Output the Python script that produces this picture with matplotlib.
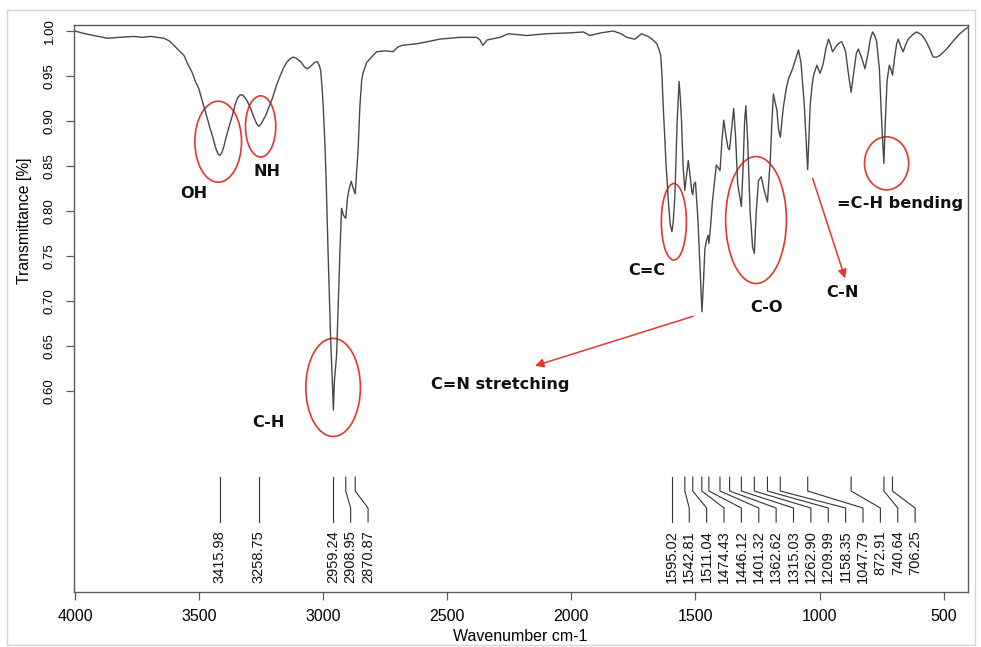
import matplotlib
matplotlib.use("Agg")
import matplotlib.pyplot as plt
from matplotlib.patches import Ellipse, Rectangle
import numpy as np

# ---------------- data ----------------
wavenumber = [4000, 3960, 3924, 3870, 3820, 3762, 3730, 3695, 3670, 3642, 3620, 3601, 3580, 3561,
              3545, 3528, 3515, 3501, 3487, 3474, 3460, 3447, 3433, 3423, 3416, 3408, 3400, 3393,
              3380, 3366, 3355, 3346, 3335, 3325, 3315, 3306, 3292, 3279, 3268, 3259, 3250, 3240,
              3232, 3218, 3205, 3190, 3178, 3160, 3145, 3130, 3121, 3110, 3091, 3075, 3064, 3050,
              3035, 3024, 3016, 3010, 3004, 3000, 2994, 2989, 2980, 2970, 2962, 2959, 2955, 2946,
              2933, 2926, 2918, 2909, 2902, 2895, 2887, 2880, 2871, 2865, 2859, 2852, 2845, 2839,
              2825, 2812, 2785, 2750, 2718, 2700, 2684, 2620, 2583, 2530, 2449, 2382, 2368, 2357,
              2340, 2288, 2254, 2180, 2100, 2000, 1952, 1925, 1880, 1831, 1800, 1777, 1744, 1717,
              1690, 1671, 1656, 1648, 1640, 1635, 1630, 1619, 1610, 1602, 1595, 1589, 1583, 1574,
              1566, 1561, 1556, 1550, 1543, 1536, 1529, 1522, 1515, 1511, 1506, 1500, 1490, 1482,
              1474, 1468, 1462, 1455, 1449, 1446, 1440, 1432, 1426, 1416, 1408, 1401, 1393, 1386,
              1378, 1369, 1363, 1355, 1346, 1338, 1330, 1315, 1308, 1302, 1297, 1290, 1280, 1270,
              1263, 1255, 1246, 1235, 1225, 1210, 1203, 1199, 1192, 1186, 1180, 1172, 1165, 1158,
              1150, 1145, 1135, 1125, 1109, 1095, 1085, 1075, 1062, 1058, 1048, 1043, 1038, 1030,
              1024, 1011, 998, 985, 975, 964, 956, 948, 940, 931, 920, 911, 903, 895, 885, 873,
              862, 852, 844, 830, 817, 805, 795, 786, 778, 770, 759, 750, 741, 735, 728, 719, 712,
              706, 698, 690, 683, 673, 663, 653, 643, 625, 609, 590, 576, 566, 556, 542, 528, 515,
              500, 488, 470, 455, 435, 414, 402]
transmittance = [1.000, 0.997, 0.995, 0.992, 0.993, 0.994, 0.993, 0.994, 0.993, 0.992, 0.989, 0.984,
                 0.978, 0.973, 0.963, 0.954, 0.944, 0.936, 0.922, 0.910, 0.896, 0.884, 0.870, 0.863,
                 0.862, 0.865, 0.872, 0.880, 0.893, 0.906, 0.918, 0.925, 0.929, 0.929, 0.926, 0.922,
                 0.914, 0.904, 0.897, 0.894, 0.897, 0.902, 0.906, 0.916, 0.925, 0.938, 0.947, 0.959,
                 0.966, 0.970, 0.971, 0.970, 0.966, 0.960, 0.958, 0.961, 0.965, 0.966, 0.962, 0.956,
                 0.935, 0.917, 0.880, 0.843, 0.751, 0.658, 0.603, 0.579, 0.610, 0.640, 0.751, 0.803,
                 0.795, 0.792, 0.815, 0.825, 0.833, 0.826, 0.819, 0.845, 0.870, 0.917, 0.945, 0.954,
                 0.965, 0.969, 0.977, 0.978, 0.977, 0.982, 0.984, 0.986, 0.988, 0.991, 0.993, 0.993,
                 0.990, 0.984, 0.990, 0.993, 0.997, 0.995, 0.997, 0.998, 0.999, 0.995, 0.998, 1.000,
                 0.997, 0.993, 0.991, 0.997, 0.994, 0.990, 0.986, 0.980, 0.973, 0.950, 0.917, 0.854,
                 0.814, 0.785, 0.777, 0.790, 0.817, 0.899, 0.944, 0.925, 0.899, 0.850, 0.823, 0.840,
                 0.856, 0.840, 0.822, 0.818, 0.830, 0.832, 0.790, 0.740, 0.688, 0.720, 0.758, 0.768,
                 0.773, 0.764, 0.780, 0.810, 0.825, 0.851, 0.848, 0.845, 0.880, 0.901, 0.885, 0.870,
                 0.868, 0.890, 0.914, 0.880, 0.830, 0.805, 0.850, 0.900, 0.917, 0.880, 0.800, 0.760,
                 0.753, 0.800, 0.834, 0.838, 0.825, 0.810, 0.840, 0.854, 0.900, 0.930, 0.922, 0.912,
                 0.890, 0.882, 0.905, 0.917, 0.935, 0.947, 0.958, 0.970, 0.979, 0.965, 0.920, 0.899,
                 0.846, 0.880, 0.917, 0.940, 0.951, 0.962, 0.953, 0.964, 0.980, 0.991, 0.985, 0.977,
                 0.980, 0.984, 0.987, 0.988, 0.983, 0.977, 0.955, 0.932, 0.955, 0.975, 0.980, 0.970,
                 0.958, 0.975, 0.992, 0.999, 0.995, 0.988, 0.958, 0.900, 0.853, 0.900, 0.945, 0.962,
                 0.957, 0.951, 0.970, 0.985, 0.991, 0.983, 0.977, 0.985, 0.991, 0.996, 0.999, 0.996,
                 0.991, 0.986, 0.980, 0.971, 0.971, 0.973, 0.977, 0.980, 0.986, 0.991, 0.997, 1.002,
                 1.004]

peak_positions = [3415.98, 3258.75, 2959.24, 2908.95, 2870.87, 1595.02, 1542.81, 1511.04,
                  1474.43, 1446.12, 1401.32, 1362.62, 1315.03, 1262.90, 1209.99, 1158.35,
                  1047.79, 872.91, 740.64, 706.25]
peak_labels = ["3415.98", "3258.75", "2959.24", "2908.95", "2870.87", "1595.02", "1542.81",
               "1511.04", "1474.43", "1446.12", "1401.32", "1362.62", "1315.03", "1262.90",
               "1209.99", "1158.35", "1047.79", "872.91", "740.64", "706.25"]

x_ticks = [4000, 3500, 3000, 2500, 2000, 1500, 1000, 500]
y_ticks = [0.60, 0.65, 0.70, 0.75, 0.80, 0.85, 0.90, 0.95, 1.00]

group_names = ["OH", "NH", "C-H", "C=C", "C-O", "=C-H bending"]

# ---------------- figure ----------------
W, H = 981, 647
fig = plt.figure(figsize=(W / 100, H / 100), dpi=100)
ax = fig.add_axes([74 / W, 1 - 592 / H, (968 - 74) / W, (592 - 25) / H])

line_col = "#484848"
red = "#e2372f"

ax.plot(wavenumber, transmittance, color=line_col, lw=1.0)
ax.set_xlim(4004, 402)
ax.set_ylim(0.3767, 1.0067)

for s in ax.spines.values():
    s.set_color("#5a5a5a")
    s.set_linewidth(1.0)

ax.set_xticks(x_ticks)
ax.set_xticklabels([str(t) for t in x_ticks], fontsize=11.5, family="Liberation Sans")
ax.set_yticks(y_ticks)
ax.set_yticklabels([f"{t:.2f}" for t in y_ticks], fontsize=9.5, family="Liberation Sans",
                   rotation=90, va="center")
ax.tick_params(axis="both", direction="out", length=6, width=0.9, color="#5a5a5a")
ax.tick_params(axis="x", pad=6)
ax.tick_params(axis="y", pad=7)

ax.set_xlabel("Wavenumber cm-1", fontsize=11.5, family="Liberation Sans")
ax.xaxis.set_label_coords(0.499, -0.066)
ax.set_ylabel("Transmittance [%]", fontsize=11.3, family="Liberation Sans")
ax.yaxis.set_label_coords(-0.047, 0.654)

# ---------------- peak label lines ----------------
gap = 70.0
label_x = []
for i, p in enumerate(peak_positions):
    if i == 0:
        label_x.append(p)
    else:
        label_x.append(min(p, label_x[-1] - gap))

y_top, y_k1, y_k2, y_bot, y_txt = 0.5044, 0.4889, 0.470, 0.4544, 0.4456
for p, lx, lab in zip(peak_positions, label_x, peak_labels):
    if abs(p - lx) < 1e-6:
        ax.plot([p, p], [y_top, y_bot], color="#333333", lw=0.8)
    else:
        ax.plot([p, p, lx, lx], [y_top, y_k1, y_k2, y_bot], color="#333333", lw=0.8)
    ax.text(lx, y_txt, lab, rotation=90, ha="center", va="top", fontsize=10.5,
            family="Liberation Sans", color="#111111")

# ---------------- annotations ----------------
ellipses = [(3423, 0.877, 188, 0.090), (3252, 0.894, 122, 0.068), (2960, 0.604, 220, 0.109),
            (1587, 0.788, 101, 0.085), (1256, 0.790, 245, 0.141), (730, 0.853, 178, 0.059)]
for (cx, cy, w, h) in ellipses:
    ax.add_patch(Ellipse((cx, cy), w, h, fill=False, edgecolor=red, lw=1.2))

label_pos = [(3521, 0.819), (3228, 0.8437), (3221, 0.5648), (1697, 0.7344), (1213, 0.693),
             (676, 0.8085)]
bold_font = dict(fontsize=11.6, fontweight="bold", family="DejaVu Sans", color="#111111")
for name, (tx, ty) in zip(group_names, label_pos):
    ax.text(tx, ty, name, ha="center", va="center", **bold_font)

ax.text(907, 0.710, "C-N", ha="center", va="center", **bold_font)
ax.text(2288, 0.6067, "C=N stretching", ha="center", va="center", **bold_font)

arrow_kw = dict(arrowstyle="-|>", color=red, lw=1.1, mutation_scale=13, shrinkA=0, shrinkB=0)
ax.annotate("", xy=(2147, 0.628), xytext=(1510, 0.683), arrowprops=arrow_kw)
ax.annotate("", xy=(897, 0.7252), xytext=(1028, 0.8363), arrowprops=arrow_kw)

# outer light frame
fig.add_artist(Rectangle((7 / W, 2 / H), (975 - 7) / W, (645 - 10) / H, transform=fig.transFigure,
                         fill=False, edgecolor="#d4d4d4", lw=1.0))

fig.savefig("out.png", dpi=100)
